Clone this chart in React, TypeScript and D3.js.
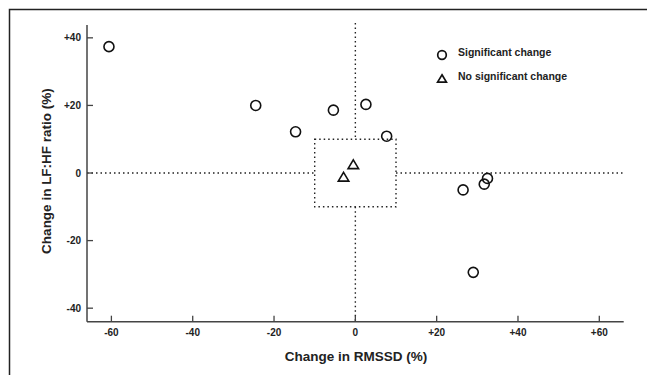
import React from 'react';
import * as d3 from 'd3';

// Significant change (circles): [RMSSD %, LF:HF %]
const sigX = [-60.6, -24.5, -14.7, -5.4, 2.6, 7.7, 26.5, 31.7, 32.5, 29.0];
const sigY = [37.4, 20.0, 12.2, 18.6, 20.3, 10.9, -5.0, -3.3, -1.6, -29.4];
// No significant change (triangles)
const nsX = [-0.5, -2.9];
const nsY = [2.4, -1.3];

const xTicks = [-60, -40, -20, 0, 20, 40, 60];
const yTicks = [-40, -20, 0, 20, 40];
const legendLabels = ['Significant change', 'No significant change'];

const W = 647;
const H = 375;
const font = 'Arial, "Liberation Sans", Helvetica, sans-serif';
const axisColor = '#444';

const fmt = (v: number) => (v > 0 ? `+${v}` : `${v}`);

const tri = (cx: number, cy: number, s = 5) =>
  `M${cx},${cy - s}L${cx + s * 1.05},${cy + s * 0.75}L${cx - s * 1.05},${cy + s * 0.75}Z`;

export default function App() {
  const x = d3.scaleLinear().domain([-66, 66]).range([87, 623.7]);
  const y = d3.scaleLinear().domain([-44, 43.8]).range([321.7, 25]);

  const x0 = x(0), y0 = y(0);
  const bx0 = x(-10), bx1 = x(10), by0 = y(10), by1 = y(-10);
  const dot = { stroke: '#222', strokeWidth: 1.4, strokeDasharray: '1.5,3', fill: 'none' };

  return (
    <svg width={W} height={H} style={{ position: 'absolute', left: 0, top: 0 }} fontFamily={font}>
      <rect x={0} y={0} width={W} height={H} fill="#fff" />
      {/* frame */}
      <path d={`M9.5,${H + 2}V9.5H${W + 2}`} fill="none" stroke="#222" strokeWidth={1.5} />

      {/* reference lines and central box */}
      <line x1={x(-66)} x2={bx0} y1={y0} y2={y0} style={dot} />
      <line x1={bx1} x2={x(66)} y1={y0} y2={y0} style={dot} />
      <line x1={x0} x2={x0} y1={23} y2={by0} style={dot} />
      <line x1={x0} x2={x0} y1={by1} y2={y(-44)} style={dot} />
      <rect x={bx0} y={by0} width={bx1 - bx0} height={by1 - by0} style={dot} />

      {/* axes */}
      <line x1={x(-66)} x2={x(-66)} y1={y(43.8)} y2={y(-44)} stroke={axisColor} strokeWidth={1.5} />
      <line x1={x(-66)} x2={x(66)} y1={y(-44)} y2={y(-44)} stroke={axisColor} strokeWidth={1.5} />

      {yTicks.map(t => (
        <g key={`y${t}`}>
          <line x1={x(-66)} x2={x(-66) + 6} y1={y(t)} y2={y(t)} stroke={axisColor} strokeWidth={1.3} />
          <text x={81} y={y(t)} dy="0.35em" textAnchor="end" fontSize={10} fontWeight="bold" fill="#222">
            {fmt(t)}
          </text>
        </g>
      ))}
      {xTicks.map(t => (
        <g key={`x${t}`}>
          <line x1={x(t)} x2={x(t)} y1={y(-44)} y2={y(-44) - 6} stroke={axisColor} strokeWidth={1.3} />
          <text x={x(t)} y={336} textAnchor="middle" fontSize={10} fontWeight="bold" fill="#222">
            {fmt(t)}
          </text>
        </g>
      ))}

      <text x={356} y={361} textAnchor="middle" fontSize={13.5} fontWeight="bold" fill="#222">
        Change in RMSSD (%)
      </text>
      <text
        transform={`translate(51,171) rotate(-90)`}
        textAnchor="middle"
        fontSize={13.5}
        fontWeight="bold"
        fill="#222"
      >
        Change in LF:HF ratio (%)
      </text>

      {/* points */}
      {sigX.map((v, i) => (
        <circle key={`s${i}`} cx={x(v)} cy={y(sigY[i])} r={5} fill="none" stroke="#111" strokeWidth={1.6} />
      ))}
      {nsX.map((v, i) => (
        <path key={`n${i}`} d={tri(x(v), y(nsY[i]))} fill="none" stroke="#111" strokeWidth={1.6} />
      ))}

      {/* legend */}
      <circle cx={442} cy={55} r={4.3} fill="none" stroke="#111" strokeWidth={1.7} />
      <text x={458} y={52} dy="0.35em" fontSize={10.5} fontWeight="bold" fill="#222">{legendLabels[0]}</text>
      <path d={tri(442, 79, 4.2)} fill="none" stroke="#111" strokeWidth={1.7} />
      <text x={458} y={76} dy="0.35em" fontSize={10.5} fontWeight="bold" fill="#222">{legendLabels[1]}</text>
    </svg>
  );
}
